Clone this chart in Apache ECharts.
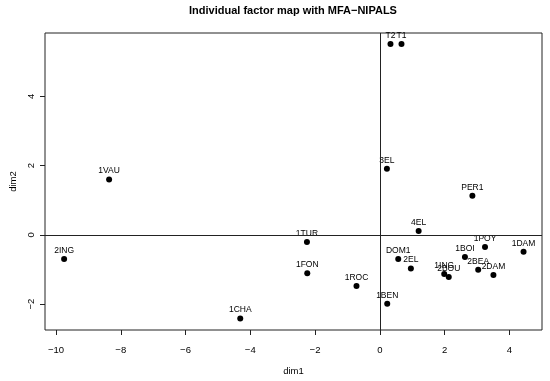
<!DOCTYPE html>
<html>
<head>
<meta charset="utf-8">
<script src="https://cdn.jsdelivr.net/npm/echarts@6/dist/echarts.min.js"></script>
<style>html,body{margin:0;padding:0;background:#fff;}#c{width:550px;height:381px;}</style>
</head>
<body>
<div id="c"></div>
<script>
const names = ['T2','T1','3EL','PER1','4EL','1POY','1DAM','1BOI','DOM1','2EL','1ING','2BOU','2BEA','2DAM','1BEN','1VAU','2ING','1TUR','1FON','1ROC','1CHA'];
const dim1 = [0.33,0.67,0.22,2.86,1.20,3.25,4.44,2.63,0.57,0.96,1.99,2.13,3.04,3.51,0.23,-8.36,-9.75,-2.25,-2.24,-0.72,-4.31];
const dim2 = [5.51,5.51,1.91,1.13,0.11,-0.35,-0.49,-0.64,-0.70,-0.97,-1.13,-1.22,-1.01,-1.16,-1.99,1.60,-0.70,-0.21,-1.11,-1.48,-2.42];
const xTicks = [-10,-8,-6,-4,-2,0,2,4];
const yTicks = [-2,0,2,4];

const data = names.map((n,i)=>({name:n, value:[dim1[i], dim2[i]]}));
const fmt = v => String(v).replace('-', '\u2212');
const font = 'Liberation Sans, Arial, Helvetica, sans-serif';

const chart = echarts.init(document.getElementById('c'), null, {renderer:'canvas'});
chart.setOption({
  animation:false,
  backgroundColor:'#fff',
  title:{
    text:'Individual factor map with MFA\u2212NIPALS',
    left:293, top:5, padding:0, textAlign:'center',
    textStyle:{fontFamily:font, fontSize:11, fontWeight:'bold', color:'#000'}
  },
  grid:{left:45, right:8, top:33, bottom:48, show:true, borderColor:'#222', borderWidth:1, backgroundColor:'transparent'},
  xAxis:{
    type:'value', min:-10.34, max:5.01,
    name:'dim1', nameLocation:'middle', nameGap:36,
    nameTextStyle:{fontFamily:font, fontSize:9.5, color:'#000'},
    axisLine:{show:false, onZero:false},
    axisTick:{show:true, inside:false, length:5, customValues:xTicks, lineStyle:{color:'#222'}},
    axisLabel:{customValues:xTicks, formatter:fmt, margin:15, fontFamily:font, fontSize:9.5, color:'#000'},
    splitLine:{show:false}
  },
  yAxis:{
    type:'value', min:-2.75, max:5.83,
    name:'dim2', nameLocation:'middle', nameGap:27,
    nameTextStyle:{fontFamily:font, fontSize:9.5, color:'#000'},
    axisLine:{show:false, onZero:false},
    axisTick:{show:true, inside:false, length:5, customValues:yTicks, lineStyle:{color:'#222'}},
    axisLabel:{customValues:yTicks, formatter:fmt, rotate:90, margin:9, fontFamily:font, fontSize:9.5, color:'#000'},
    splitLine:{show:false}
  },
  series:[{
    type:'scatter',
    data:data,
    symbol:'circle', symbolSize:6,
    itemStyle:{color:'#000', opacity:1},
    label:{show:true, position:'top', distance:1, formatter:p=>p.name, fontFamily:font, fontSize:8.5, color:'#000'},
    labelLayout:{hideOverlap:false},
    markLine:{
      silent:true, symbol:'none', label:{show:false},
      lineStyle:{color:'#222', width:1, type:'solid', opacity:1},
      data:[{xAxis:0},{yAxis:0}]
    }
  }]
});
</script>
</body>
</html>
